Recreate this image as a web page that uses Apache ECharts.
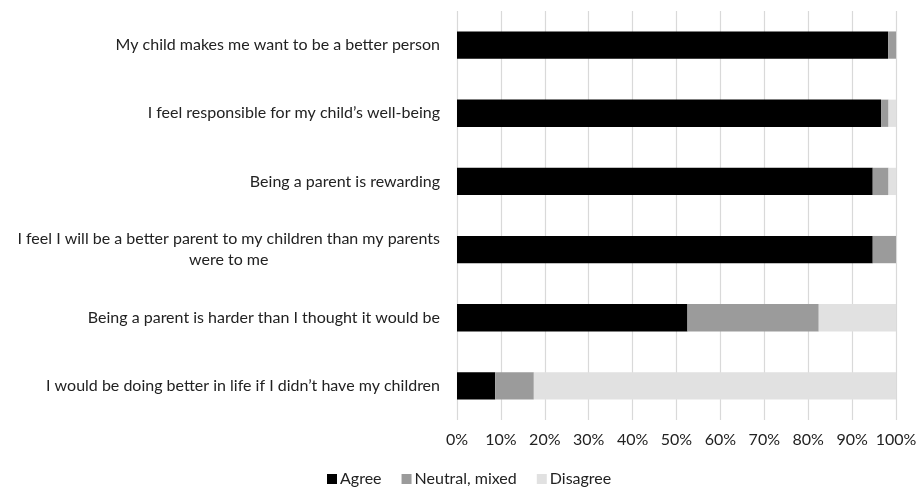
<!DOCTYPE html>
<html>
<head>
<meta charset="utf-8">
<script src="https://cdn.jsdelivr.net/npm/echarts@6/dist/echarts.min.js"></script>
<style>html,body{margin:0;padding:0;background:#fff;}#chart{width:920px;height:489px;}</style>
</head>
<body>
<div id="chart"></div>
<script>
const categories = [
  "My child makes me want to be a better person",
  "I feel responsible for my child\u2019s well-being",
  "Being a parent is rewarding",
  "I feel I will be a better parent to my children than my parents\nwere to me",
  "Being a parent is harder than I thought it would be",
  "I would be doing better in life if I didn\u2019t have my children"
];
const agree = [98.2, 96.6, 94.7, 94.7, 52.5, 8.7];
const neutral = [1.8, 1.7, 3.6, 5.3, 29.9, 8.8];
const disagree = [0, 1.7, 1.7, 0, 17.6, 82.5];
const seriesNames = ["Agree", "Neutral, mixed", "Disagree"];
const colors = ["#000000", "#9b9b9b", "#e1e1e1"];

const chart = echarts.init(document.getElementById('chart'));
const font = "Lato, 'Open Sans', sans-serif";
chart.setOption({
  animation: false,
  textStyle: { fontFamily: font },
  grid: { left: 457, right: 24, top: 11, bottom: 69, containLabel: false },
  legend: {
    data: seriesNames,
    bottom: -3,
    left: 322,
    icon: 'rect',
    itemWidth: 10,
    itemHeight: 10,
    itemGap: 20,
    textStyle: { fontSize: 16, color: '#222', fontFamily: font, padding: [0, 0, 0, -2] }
  },
  xAxis: {
    type: 'value', min: 0, max: 100, interval: 10,
    axisLabel: { formatter: '{value}%', fontSize: 16, color: '#222', margin: 12, fontFamily: font },
    axisLine: { show: false }, axisTick: { show: false },
    splitLine: { show: true, lineStyle: { color: '#d9d9d9', width: 1.2 } }
  },
  yAxis: {
    type: 'category', data: categories, inverse: true,
    axisLine: { show: false }, axisTick: { show: false },
    axisLabel: {
      fontSize: 16, color: '#222', margin: 17, align: 'right', fontFamily: font,
      formatter: function (v) {
        return v.split('\n').map(function (l) { return '{c|' + l + '}'; }).join('\n');
      },
      rich: { c: { fontSize: 16, color: '#222', fontFamily: font, align: 'center', lineHeight: 21 } }
    }
  },
  series: [
    { name: seriesNames[0], type: 'bar', stack: 't', data: agree, barWidth: '40%', itemStyle: { color: colors[0] } },
    { name: seriesNames[1], type: 'bar', stack: 't', data: neutral, barWidth: '40%', itemStyle: { color: colors[1] } },
    { name: seriesNames[2], type: 'bar', stack: 't', data: disagree, barWidth: '40%', itemStyle: { color: colors[2] } }
  ]
});
</script>
</body>
</html>
